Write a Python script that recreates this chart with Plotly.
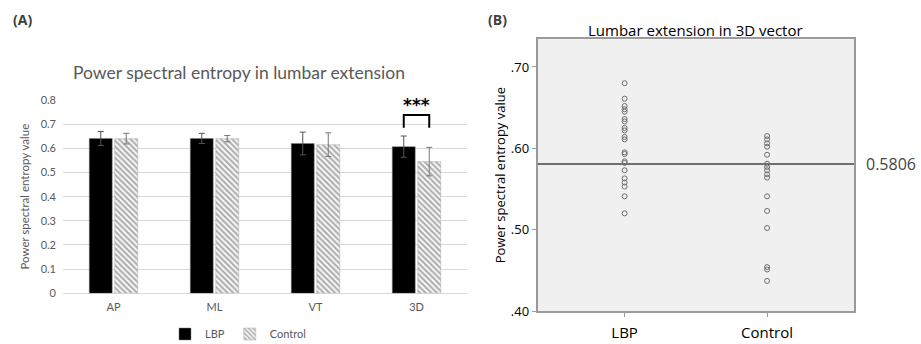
import plotly.graph_objects as go

# ---------------- data ----------------
directions = ["AP", "ML", "VT", "3D"]
lbp_mean = [0.641, 0.641, 0.620, 0.607]
lbp_err = [0.029, 0.021, 0.047, 0.044]
ctrl_mean = [0.640, 0.640, 0.615, 0.545]
ctrl_err = [0.022, 0.013, 0.049, 0.059]
yticks_a = [0, 0.1, 0.2, 0.3, 0.4, 0.5, 0.6, 0.7, 0.8]
yticklabels_a = ["0", "0.1", "0.2", "0.3", "0.4", "0.5", "0.6", "0.7", "0.8"]

groups_b = ["LBP", "Control"]
lbp_points = [0.680, 0.661, 0.652, 0.648, 0.645, 0.636, 0.633, 0.625, 0.622,
              0.614, 0.611, 0.595, 0.593, 0.584, 0.582, 0.573, 0.563, 0.558,
              0.553, 0.541, 0.520]
ctrl_points = [0.615, 0.611, 0.606, 0.602, 0.592, 0.581, 0.577, 0.573, 0.568,
               0.564, 0.541, 0.523, 0.502, 0.454, 0.451, 0.437]
grand_mean = 0.5806
yticks_b = [0.40, 0.50, 0.60, 0.70]
yticklabels_b = [".40", ".50", ".60", ".70"]

W, H = 921, 344
def fx(px):
    return px / W
def fy(py):
    return 1 - py / H

BARGAP = 0.495
GROUPGAP = 0.1
GREY = "#595959"

fig = go.Figure()

fig.add_trace(go.Bar(
    x=directions, y=lbp_mean, name="LBP",
    marker=dict(color="black", line=dict(color="#7f7f7f", width=0.5)),
    error_y=dict(type="data", array=lbp_err, color="#555555", thickness=1, width=3),
    xaxis="x", yaxis="y",
))
fig.add_trace(go.Bar(
    x=directions, y=ctrl_mean, name="Control",
    marker=dict(color="white",
                line=dict(color="#aaaaaa", width=0.5),
                pattern=dict(shape="\\", fgcolor="#5f5f5f", bgcolor="white",
                             size=4, solidity=0.55)),
    error_y=dict(type="data", array=ctrl_err, color="#777777", thickness=1, width=3),
    xaxis="x", yaxis="y",
))

# panel B scatter
fig.add_trace(go.Scatter(
    x=[groups_b[0]] * len(lbp_points), y=lbp_points, mode="markers",
    marker=dict(symbol="circle-open", size=5, color="#6e6e6e", line=dict(width=1)),
    showlegend=False, xaxis="x2", yaxis="y2",
))
fig.add_trace(go.Scatter(
    x=[groups_b[1]] * len(ctrl_points), y=ctrl_points, mode="markers",
    marker=dict(symbol="circle-open", size=5, color="#6e6e6e", line=dict(width=1)),
    showlegend=False, xaxis="x2", yaxis="y2",
))

# significance bracket over 3D bars (computed from bar layout)
half = (1 - BARGAP) / 4
idx = directions.index("3D")
bx0, bx1 = idx - half, idx + half
fig.add_shape(type="path",
              path=f"M {bx0},0.685 L {bx0},0.738 L {bx1},0.738 L {bx1},0.685",
              xref="x", yref="y", line=dict(color="black", width=2))
fig.add_annotation(x=idx, y=0.78, xref="x", yref="y", text="<b>***</b>",
                   xanchor="center", yanchor="middle",
                   showarrow=False, font=dict(size=17, color="black", family="DejaVu Sans"))

# grand mean line
fig.add_shape(type="line", xref="x2 domain", x0=0, x1=1, yref="y2",
              y0=grand_mean, y1=grand_mean, line=dict(color="#707070", width=2))
fig.add_annotation(x=fx(891), xref="paper", y=grand_mean, yref="y2",
                   xanchor="center", yanchor="middle",
                   text=f"{grand_mean:.4f}", showarrow=False,
                   font=dict(size=16, color="#444444", family="Open Sans"))

# titles & panel labels
def label(xp, yp, text, size, color, family):
    fig.add_annotation(x=fx(xp), y=fy(yp), xref="paper", yref="paper", text=text,
                       xanchor="center", yanchor="middle", showarrow=False,
                       font=dict(size=size, color=color, family=family))

label(22, 20, "<b>(A)</b>", 14, "#404040", "Open Sans")
label(497, 20, "<b>(B)</b>", 14, "#404040", "Open Sans")
label(239, 73, "Power spectral entropy in lumbar extension", 17.5, GREY, "Lato")
label(695, 30, "Lumbar extension in 3D vector", 15, "black", "Open Sans")

fig.update_layout(
    width=W, height=H,
    margin=dict(l=0, r=0, t=0, b=0, autoexpand=False),
    paper_bgcolor="white", plot_bgcolor="white",
    barmode="group", bargap=BARGAP, bargroupgap=GROUPGAP,
    font=dict(family="Lato", color=GREY, size=11),
    legend=dict(orientation="h", x=fx(238), xanchor="center", y=fy(334), yanchor="middle",
                font=dict(size=11, color=GREY, family="Lato"),
                itemwidth=30, bgcolor="rgba(0,0,0,0)"),
    xaxis=dict(domain=[fx(63), fx(467)], anchor="y", showgrid=False, ticks="",
               automargin=False,
               showline=False, tickfont=dict(size=11, color=GREY), ticklabelstandoff=6),
    yaxis=dict(domain=[fy(293.3), fy(100)], anchor="x", range=[0, 0.8],
               automargin=False,
               tickvals=yticks_a, ticktext=yticklabels_a,
               showgrid=True, gridcolor="#d9d9d9", gridwidth=1,
               zeroline=True, zerolinecolor="#d9d9d9", zerolinewidth=1,
               tickfont=dict(size=11, color=GREY), ticklabelstandoff=6,
               title=dict(text="Power spectral entropy value", standoff=8,
                          font=dict(size=11.5, color=GREY))),
    xaxis2=dict(domain=[fx(537.7), fx(854)], anchor="y2", range=[-0.61, 1.61],
                automargin=False,
                showgrid=False, showline=True, mirror=True, linecolor="#9a9a9a", linewidth=2,
                ticks="outside", ticklen=4, tickcolor="#9a9a9a",
                tickfont=dict(size=15, color="black", family="Open Sans"),
                ticklabelstandoff=3, zeroline=False),
    yaxis2=dict(domain=[fy(311), fy(39.3)], anchor="x2", range=[0.40, 0.734],
                automargin=False,
                tickvals=yticks_b, ticktext=yticklabels_b,
                showgrid=False, showline=True, mirror=True, linecolor="#9a9a9a", linewidth=2,
                ticks="outside", ticklen=4, tickcolor="#9a9a9a", zeroline=False,
                tickfont=dict(size=13, color="black", family="Open Sans"),
                title=dict(text="Power spectral entropy value", standoff=2,
                           font=dict(size=13, color="black", family="Open Sans"))),
)
fig.add_shape(type="rect", xref="x2 domain", yref="y2 domain", x0=0, x1=1, y0=0, y1=1,
              fillcolor="#f0f0f0", line=dict(width=0), layer="below")

fig.write_html("out.html", config={"displayModeBar": False},
               post_script="document.body.style.margin='0';")
